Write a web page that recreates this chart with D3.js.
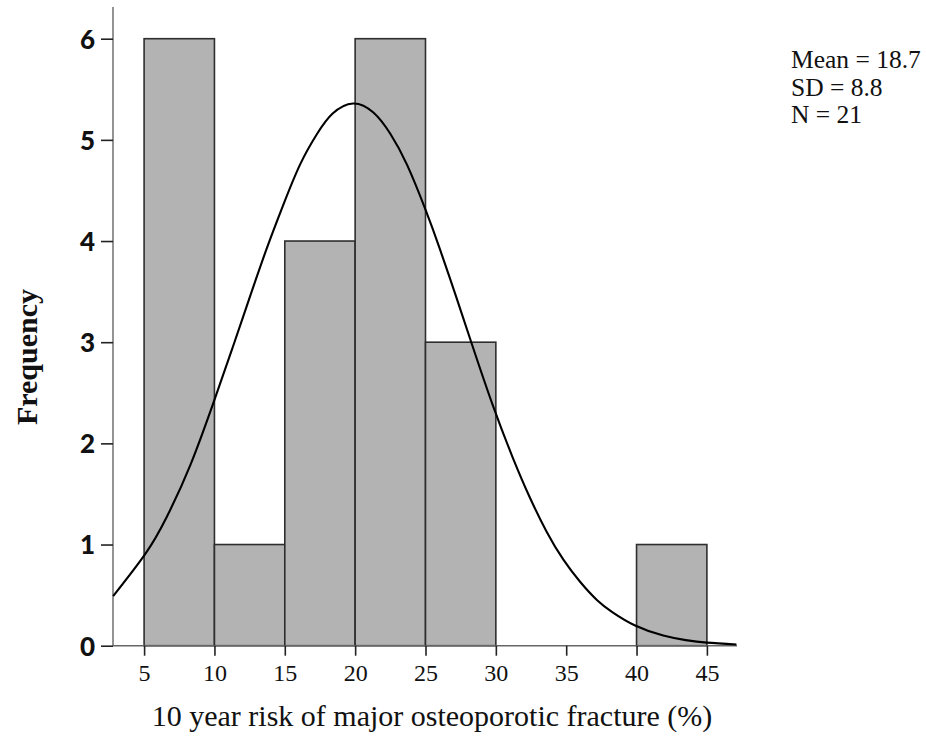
<!DOCTYPE html>
<html>
<head>
<meta charset="utf-8">
<script src="https://cdn.jsdelivr.net/npm/d3@7"></script>
<style>
  body { margin: 0; background: #fff; }
  svg { display: block; }
</style>
</head>
<body>
<div class="chart"></div>
<script>
var w = 926,
  h = 736;

// histogram bins (lower edge) and counts
var binStart = [5, 10, 15, 20, 25, 30, 35, 40],
  binWidth = 5,
  counts = [6, 1, 4, 6, 3, 0, 0, 1];

// fitted normal curve
var curveX = [2.8, 5.1, 6.6, 8.3, 10.0, 11.3, 12.5, 13.7, 14.9, 16.1, 17.3, 18.4, 19.85, 21.3, 22.5, 23.7, 25.0, 26.0, 27.2, 28.3, 29.8, 31.2, 32.4, 33.6, 34.8, 36.0, 37.2, 38.3, 39.9, 41.9, 43.5, 45.0, 47.1],
  curveY = [0.49, 0.91, 1.27, 1.79, 2.43, 2.95, 3.44, 3.92, 4.36, 4.76, 5.06, 5.26, 5.36, 5.27, 5.06, 4.75, 4.31, 3.93, 3.44, 2.98, 2.37, 1.86, 1.47, 1.13, 0.85, 0.63, 0.45, 0.33, 0.20, 0.10, 0.055, 0.03, 0.012];

var xTicks = [5, 10, 15, 20, 25, 30, 35, 40, 45],
  yTicks = [0, 1, 2, 3, 4, 5, 6];

var statLines = ['Mean = 18.7', 'SD = 8.8', 'N = 21'];

var xLabel = '10 year risk of major osteoporotic fracture (%)',
  yLabel = 'Frequency';

var serif = '"Liberation Serif", "Times New Roman", serif',
  sans = 'Lato, "Open Sans", sans-serif';

var svg = d3.select('.chart')
  .append('svg')
  .attr('width', w)
  .attr('height', h);

var x = d3.scaleLinear()
  .domain([2.79, 47.14])
  .range([113, 737]);

var y = d3.scaleLinear()
  .domain([0, 6])
  .range([645.7, 38.7]);

// bars
svg.selectAll('rect.bar')
  .data(binStart.map(function (b, i) { return { x0: b, n: counts[i] }; })
    .filter(function (d) { return d.n > 0; }))
  .enter()
  .append('rect')
  .attr('class', 'bar')
  .attr('x', function (d) { return x(d.x0); })
  .attr('y', function (d) { return y(d.n); })
  .attr('width', function (d) { return x(d.x0 + binWidth) - x(d.x0); })
  .attr('height', function (d) { return y(0) - y(d.n); })
  .attr('fill', '#b3b3b3')
  .attr('stroke', '#2e2e2e')
  .attr('stroke-width', 1.6);

// y axis
var yAxis = svg.append('g')
  .attr('transform', 'translate(113,0)')
  .call(d3.axisLeft(y).tickValues(yTicks).tickSize(12).tickPadding(6).tickFormat(d3.format('d')));
yAxis.select('.domain')
  .attr('d', 'M0,' + y(0) + 'V7')
  .attr('stroke', '#666')
  .attr('stroke-width', 1.4);
yAxis.selectAll('.tick line').attr('stroke', '#222').attr('stroke-width', 1.6);
yAxis.selectAll('.tick text')
  .attr('font-family', sans)
  .attr('font-weight', 900)
  .attr('font-size', 26)
  .attr('fill', '#111')
  .attr('dy', '0.36em');

// x axis
var xAxis = svg.append('g')
  .attr('transform', 'translate(0,' + y(0) + ')')
  .call(d3.axisBottom(x).tickValues(xTicks).tickSize(10).tickPadding(8));
xAxis.select('.domain')
  .attr('d', 'M113,0H737')
  .attr('stroke', '#666')
  .attr('stroke-width', 1.4);
xAxis.selectAll('.tick line').attr('stroke', '#222').attr('stroke-width', 1.6);
xAxis.selectAll('.tick text')
  .attr('font-family', serif)
  .attr('font-size', 24)
  .attr('fill', '#111');

// normal curve
var line = d3.line()
  .x(function (d) { return x(d[0]); })
  .y(function (d) { return y(d[1]); })
  .curve(d3.curveNatural);

svg.append('path')
  .datum(curveX.map(function (v, i) { return [v, curveY[i]]; }))
  .attr('d', line)
  .attr('fill', 'none')
  .attr('stroke', '#000')
  .attr('stroke-width', 2.1);

// axis titles
svg.append('text')
  .attr('x', 432)
  .attr('y', 726)
  .attr('text-anchor', 'middle')
  .attr('font-family', serif)
  .attr('font-size', 30)
  .attr('fill', '#111')
  .text(xLabel);

svg.append('text')
  .attr('transform', 'translate(37,357) rotate(-90)')
  .attr('text-anchor', 'middle')
  .attr('font-family', serif)
  .attr('font-weight', 'bold')
  .attr('font-size', 30)
  .attr('fill', '#111')
  .text(yLabel);

// stats box
svg.append('g')
  .selectAll('text')
  .data(statLines)
  .enter()
  .append('text')
  .attr('x', 791)
  .attr('y', function (d, i) { return 68 + i * 27.5; })
  .attr('font-family', serif)
  .attr('font-size', 25.5)
  .attr('fill', '#111')
  .text(function (d) { return d; });
</script>
</body>
</html>
